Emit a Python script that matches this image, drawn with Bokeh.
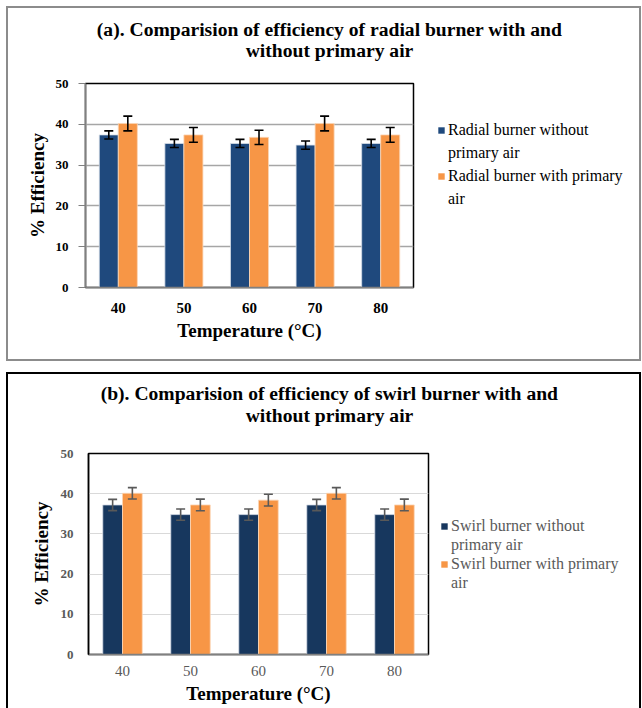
from bokeh.plotting import figure
from bokeh.models import (ColumnDataSource, Whisker, Legend, LegendItem, Range1d,
                          FixedTicker, Label, Spacer)
from bokeh.layouts import column, row
from bokeh.embed import file_html
from bokeh.resources import INLINE

temps = ["40", "50", "60", "70", "80"]
y_ticks = [0, 10, 20, 30, 40, 50]

radial_without = [37.4, 35.3, 35.3, 34.9, 35.3]
radial_without_err = [1.0, 1.0, 1.0, 1.0, 1.0]
radial_with = [40.2, 37.4, 36.8, 40.2, 37.4]
radial_with_err = [1.8, 1.8, 1.75, 1.8, 1.8]

swirl_without = [37.2, 34.8, 34.8, 37.2, 34.8]
swirl_without_err = [1.4, 1.4, 1.4, 1.4, 1.4]
swirl_with = [40.1, 37.2, 38.4, 40.1, 37.2]
swirl_with_err = [1.4, 1.45, 1.45, 1.4, 1.45]

SERIF = "Liberation Serif"
PANEL_W = 635


def blank_fig(w, h, yflip=False, xr=None):
    f = figure(width=w, height=h, output_backend="svg", toolbar_location=None,
               x_range=xr if xr is not None else Range1d(0, w),
               y_range=Range1d(h, 0) if yflip else Range1d(0, h),
               x_axis_type=None, y_axis_type=None,
               min_border_left=0, min_border_right=0, min_border_top=0,
               min_border_bottom=0)
    f.outline_line_color = None
    f.background_fill_alpha = 0
    f.border_fill_alpha = 0
    f.xgrid.grid_line_color = None
    f.ygrid.grid_line_color = None
    return f


def title_fig(h, lines, ys, cx):
    f = blank_fig(PANEL_W, h, yflip=True)
    for txt, yy in zip(lines, ys):
        f.add_layout(Label(x=cx, y=yy, text=txt, text_align="center",
                           text_baseline="middle", text_font=SERIF,
                           text_font_size="19.6px", text_font_style="bold",
                           text_color="black"))
    return f


def legend_fig(w, h, names, series, colors, text_color, margin, spacing):
    # the series bars live outside this figure's visible x range; only their
    # legend swatches are shown
    f = blank_fig(w, h, xr=Range1d(-20, -10))
    xs = list(range(1, len(temps) + 1))
    rs = []
    for vals, c in zip(series, colors):
        src = ColumnDataSource(dict(x=xs, top=vals))
        rs.append(f.vbar(x="x", top="top", width=0.3, source=src, fill_color=c,
                         line_color=None))
    empty = ColumnDataSource(dict(x=[], top=[]))
    rd = f.vbar(x="x", top="top", width=1, source=empty, fill_alpha=0, line_alpha=0)
    items = [LegendItem(label=names[0], renderers=[rs[0]]),
             LegendItem(label=names[1], renderers=[rd]),
             LegendItem(label=names[2], renderers=[rs[1]]),
             LegendItem(label=names[3], renderers=[rd])]
    leg = Legend(items=items, location="top_left", margin=margin, padding=0,
                 spacing=spacing, glyph_width=8, glyph_height=8, label_height=8,
                 label_text_font=SERIF, label_text_font_size="16px",
                 label_text_color=text_color, label_standoff=3,
                 border_line_color=None, background_fill_alpha=0)
    f.add_layout(leg, "center")
    return f


def chart_fig(s1, e1, s2, e2, width, height, borders, blue, orange, grid_color,
              grid_width, tick_color, err_color, frame_line, yaxis_line, ytick_out,
              ytick_standoff, xlab_standoff, ylab_standoff, xlabel_standoff,
              xtick_bold):
    n = len(temps)
    xs = list(range(1, n + 1))
    bw = 0.29
    src1 = ColumnDataSource(dict(x=[v - bw / 2 for v in xs], top=s1,
                                 lo=[a - b for a, b in zip(s1, e1)],
                                 hi=[a + b for a, b in zip(s1, e1)]))
    src2 = ColumnDataSource(dict(x=[v + bw / 2 for v in xs], top=s2,
                                 lo=[a - b for a, b in zip(s2, e2)],
                                 hi=[a + b for a, b in zip(s2, e2)]))
    p = figure(width=width, height=height, output_backend="svg", toolbar_location=None,
               x_range=Range1d(0.5, n + 0.5), y_range=Range1d(0, 50),
               min_border_left=borders[0], min_border_right=borders[1],
               min_border_top=borders[2], min_border_bottom=borders[3])
    p.background_fill_color = "white"
    p.border_fill_alpha = 0
    p.outline_line_color = frame_line
    p.outline_line_width = 1.5

    p.vbar(x="x", top="top", width=bw, source=src1, fill_color=blue,
           line_color="#d8dee8", line_width=0.8)
    p.vbar(x="x", top="top", width=bw, source=src2, fill_color=orange,
           line_color="#fbd5b5", line_width=0.8)
    for src in (src1, src2):
        w = Whisker(base="x", lower="lo", upper="hi", source=src,
                    line_color=err_color, line_width=1.6, level="overlay")
        for h in (w.upper_head, w.lower_head):
            h.line_color = err_color
            h.line_width = 1.6
            h.size = 9
        p.add_layout(w)

    p.xaxis.ticker = FixedTicker(ticks=xs)
    p.xaxis.major_label_overrides = {x: t for x, t in zip(xs, temps)}
    p.xaxis.major_tick_line_color = None
    p.xaxis.major_tick_out = 0
    p.xaxis.major_tick_in = 0
    p.xaxis.minor_tick_line_color = None
    p.xaxis.axis_line_color = "#808080"
    p.xaxis.axis_line_width = 1.5
    p.xaxis.major_label_text_font = SERIF
    p.xaxis.major_label_text_font_size = "15px"
    p.xaxis.major_label_text_font_style = "bold" if xtick_bold else "normal"
    p.xaxis.major_label_text_color = tick_color
    p.xaxis.major_label_standoff = xlab_standoff
    p.xaxis.axis_label = "Temperature (\u00b0C)"
    p.xaxis.axis_label_text_font = SERIF
    p.xaxis.axis_label_text_font_size = "19px"
    p.xaxis.axis_label_text_font_style = "bold"
    p.xaxis.axis_label_text_color = "black"
    p.xaxis.axis_label_standoff = xlabel_standoff

    p.yaxis.ticker = FixedTicker(ticks=y_ticks)
    p.yaxis.minor_tick_line_color = None
    p.yaxis.axis_line_color = yaxis_line
    p.yaxis.axis_line_width = 1.5
    if ytick_out:
        p.yaxis.major_tick_line_color = "#808080"
        p.yaxis.major_tick_out = 7
        p.yaxis.major_tick_in = 0
        p.yaxis.major_tick_line_width = 1.2
    else:
        p.yaxis.major_tick_line_color = None
        p.yaxis.major_tick_out = 0
        p.yaxis.major_tick_in = 0
    p.yaxis.major_label_text_font = SERIF
    p.yaxis.major_label_text_font_size = "13px"
    p.yaxis.major_label_text_font_style = "bold"
    p.yaxis.major_label_text_color = tick_color
    p.yaxis.major_label_standoff = ytick_standoff
    p.yaxis.axis_label = "% Efficiency"
    p.yaxis.axis_label_text_font = SERIF
    p.yaxis.axis_label_text_font_size = "19px"
    p.yaxis.axis_label_text_font_style = "bold"
    p.yaxis.axis_label_text_color = "black"
    p.yaxis.axis_label_standoff = ylab_standoff

    p.xgrid.grid_line_color = None
    p.ygrid.grid_line_color = grid_color
    p.ygrid.grid_line_width = grid_width
    return p


# ---- panel (a) ----
H1, T1 = 355, 62
t1 = title_fig(T1, ["(a). Comparision of efficiency of radial burner with and",
                    "without primary air"], [23, 44], 323)
c1 = chart_fig(radial_without, radial_without_err, radial_with, radial_with_err,
               420, H1 - T1, (79, 13, 15, 74),
               "#1f497d", "#f79646", "#a6a6a6", 1.5, "black", "black",
               "black", "#808080", True, 10, 15, 5, 4, True)
S1 = 42
l1 = legend_fig(PANEL_W - 420, H1 - T1 - S1,
                ["Radial burner without", "primary air",
                 "Radial burner with primary", "air"],
                [radial_without, radial_with], ["#1f497d", "#f79646"], "black", 11, 5)
panel1 = column(t1, row(c1, column(Spacer(width=PANEL_W - 420, height=S1), l1, spacing=0),
                        spacing=0), spacing=0,
                styles={"box-shadow": "inset 0 0 0 2px #8c8c8c", "background": "white"})

# ---- panel (b) ----
H2, T2 = 336, 62
t2 = title_fig(T2, ["(b). Comparision of efficiency of swirl burner with and",
                    "without primary air"], [21, 43], 323)
c2 = chart_fig(swirl_without, swirl_without_err, swirl_with, swirl_with_err,
               428, H2 - T2, (82, 6, 19, 54),
               "#17375e", "#f79646", "#d9d9d9", 1.2, "#595959", "#595959",
               "black", "black", False, 15, 11, 6, 4, False)
S2 = 77
l2 = legend_fig(PANEL_W - 428, H2 - T2 - S2,
                ["Swirl burner without", "primary air",
                 "Swirl burner with primary", "air"],
                [swirl_without, swirl_with], ["#17375e", "#f79646"], "#595959", 6, 1)
panel2 = column(t2, row(c2, column(Spacer(width=PANEL_W - 428, height=S2), l2, spacing=0),
                        spacing=0), spacing=0,
                styles={"box-shadow": "inset 2px 2px 0 0 #000, inset -2px 0 0 0 #000",
                        "background": "white"})

layout = column(Spacer(width=6, height=6),
                row(Spacer(width=6, height=6), column(panel1, panel2, spacing=11), spacing=0),
                spacing=0)

open("out.html", "w").write(file_html(layout, INLINE))
